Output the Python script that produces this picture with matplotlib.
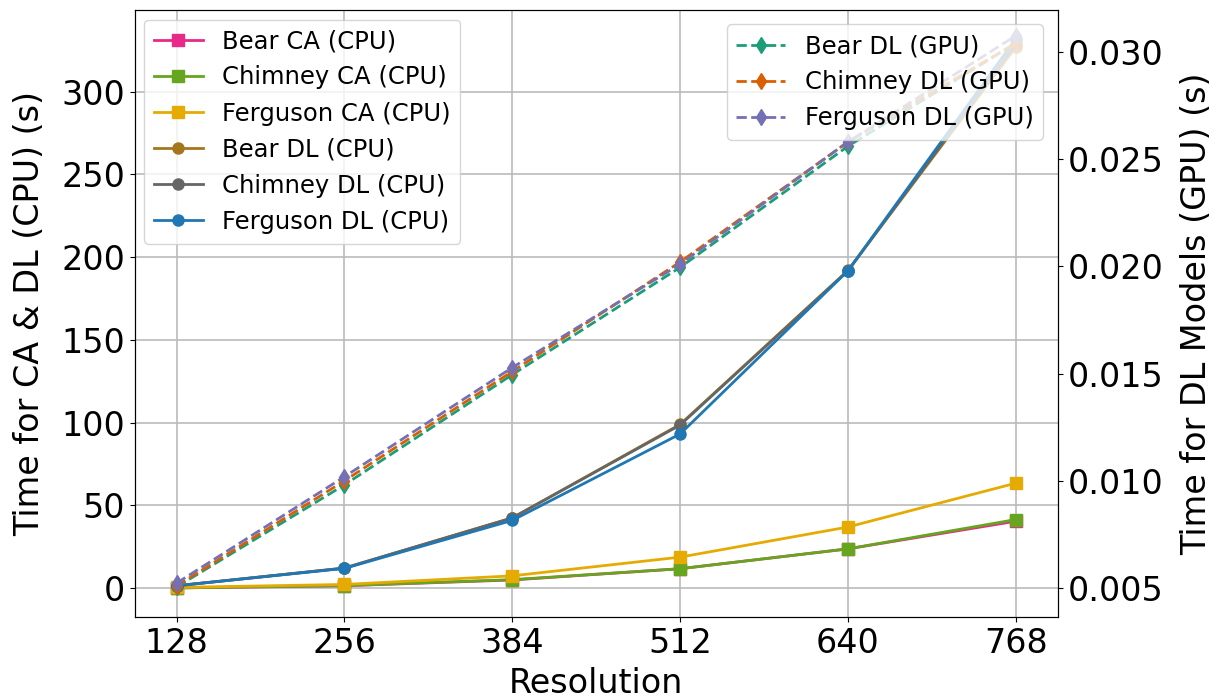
import matplotlib
matplotlib.use("Agg")
import matplotlib.pyplot as plt

res = [128, 256, 384, 512, 640, 768]
bear_ca = [0.2, 1.5, 5.0, 11.8, 23.8, 40.5]
chimney_ca = [0.2, 1.6, 5.2, 11.8, 23.8, 41.5]
ferguson_ca = [0.5, 2.3, 7.5, 18.8, 37.0, 63.5]
bear_dl = [1.5, 12.2, 42.5, 99.0, 192.0, 327.0]
chimney_dl = [1.5, 12.2, 42.5, 98.6, 191.8, 329.0]
ferguson_dl = [1.5, 12.0, 41.0, 93.2, 191.8, 332.0]
bear_gpu = [0.00505, 0.00981, 0.01495, 0.01995, 0.0256, 0.0304]
chimney_gpu = [0.0051, 0.0100, 0.0151, 0.0202, 0.0258, 0.0304]
ferguson_gpu = [0.00523, 0.01019, 0.01528, 0.0201, 0.0258, 0.03075]

fig, ax = plt.subplots(figsize=(12.13, 6.99), dpi=100)
ax2 = ax.twinx()

ax.plot(res, bear_ca, '-s', color='#e7298a', lw=2, ms=8, label='Bear CA (CPU)')
ax.plot(res, chimney_ca, '-s', color='#66a61e', lw=2, ms=8, label='Chimney CA (CPU)')
ax.plot(res, ferguson_ca, '-s', color='#e6ab02', lw=2, ms=8, label='Ferguson CA (CPU)')
ax.plot(res, bear_dl, '-o', color='#a6761d', lw=2, ms=8, label='Bear DL (CPU)')
ax.plot(res, chimney_dl, '-o', color='#666666', lw=2, ms=8, label='Chimney DL (CPU)')
ax.plot(res, ferguson_dl, '-o', color='#1f77b4', lw=2, ms=8, label='Ferguson DL (CPU)')

ax2.plot(res, bear_gpu, '--d', color='#1b9e77', lw=2, ms=8, label='Bear DL (GPU)')
ax2.plot(res, chimney_gpu, '--d', color='#d95f02', lw=2, ms=8, label='Chimney DL (GPU)')
ax2.plot(res, ferguson_gpu, '--d', color='#7570b3', lw=2, ms=8, label='Ferguson DL (GPU)')

ax.set_xticks(res)
ax.set_xlim(96, 800)
ax.set_ylim(-17.5, 349.5)
ax2.set_ylim(0.00364, 0.03196)
ax.grid(True, color='#bbbbbb', lw=1.2)
ax.tick_params(labelsize=24)
ax2.tick_params(labelsize=24)
ax.set_xlabel('Resolution', fontsize=24, labelpad=5)
ax.set_ylabel('Time for CA & DL (CPU) (s)', fontsize=24, labelpad=11)
ax2.set_ylabel('Time for DL Models (GPU) (s)', fontsize=24, labelpad=12)
ax.legend(loc='upper left', fontsize=17.5, borderaxespad=0.4)
ax2.legend(loc='upper right', fontsize=17.5, borderaxespad=0.6)

fig.subplots_adjust(left=0.111, right=0.872, top=0.986, bottom=0.117)
fig.savefig('out.png', dpi=100)
